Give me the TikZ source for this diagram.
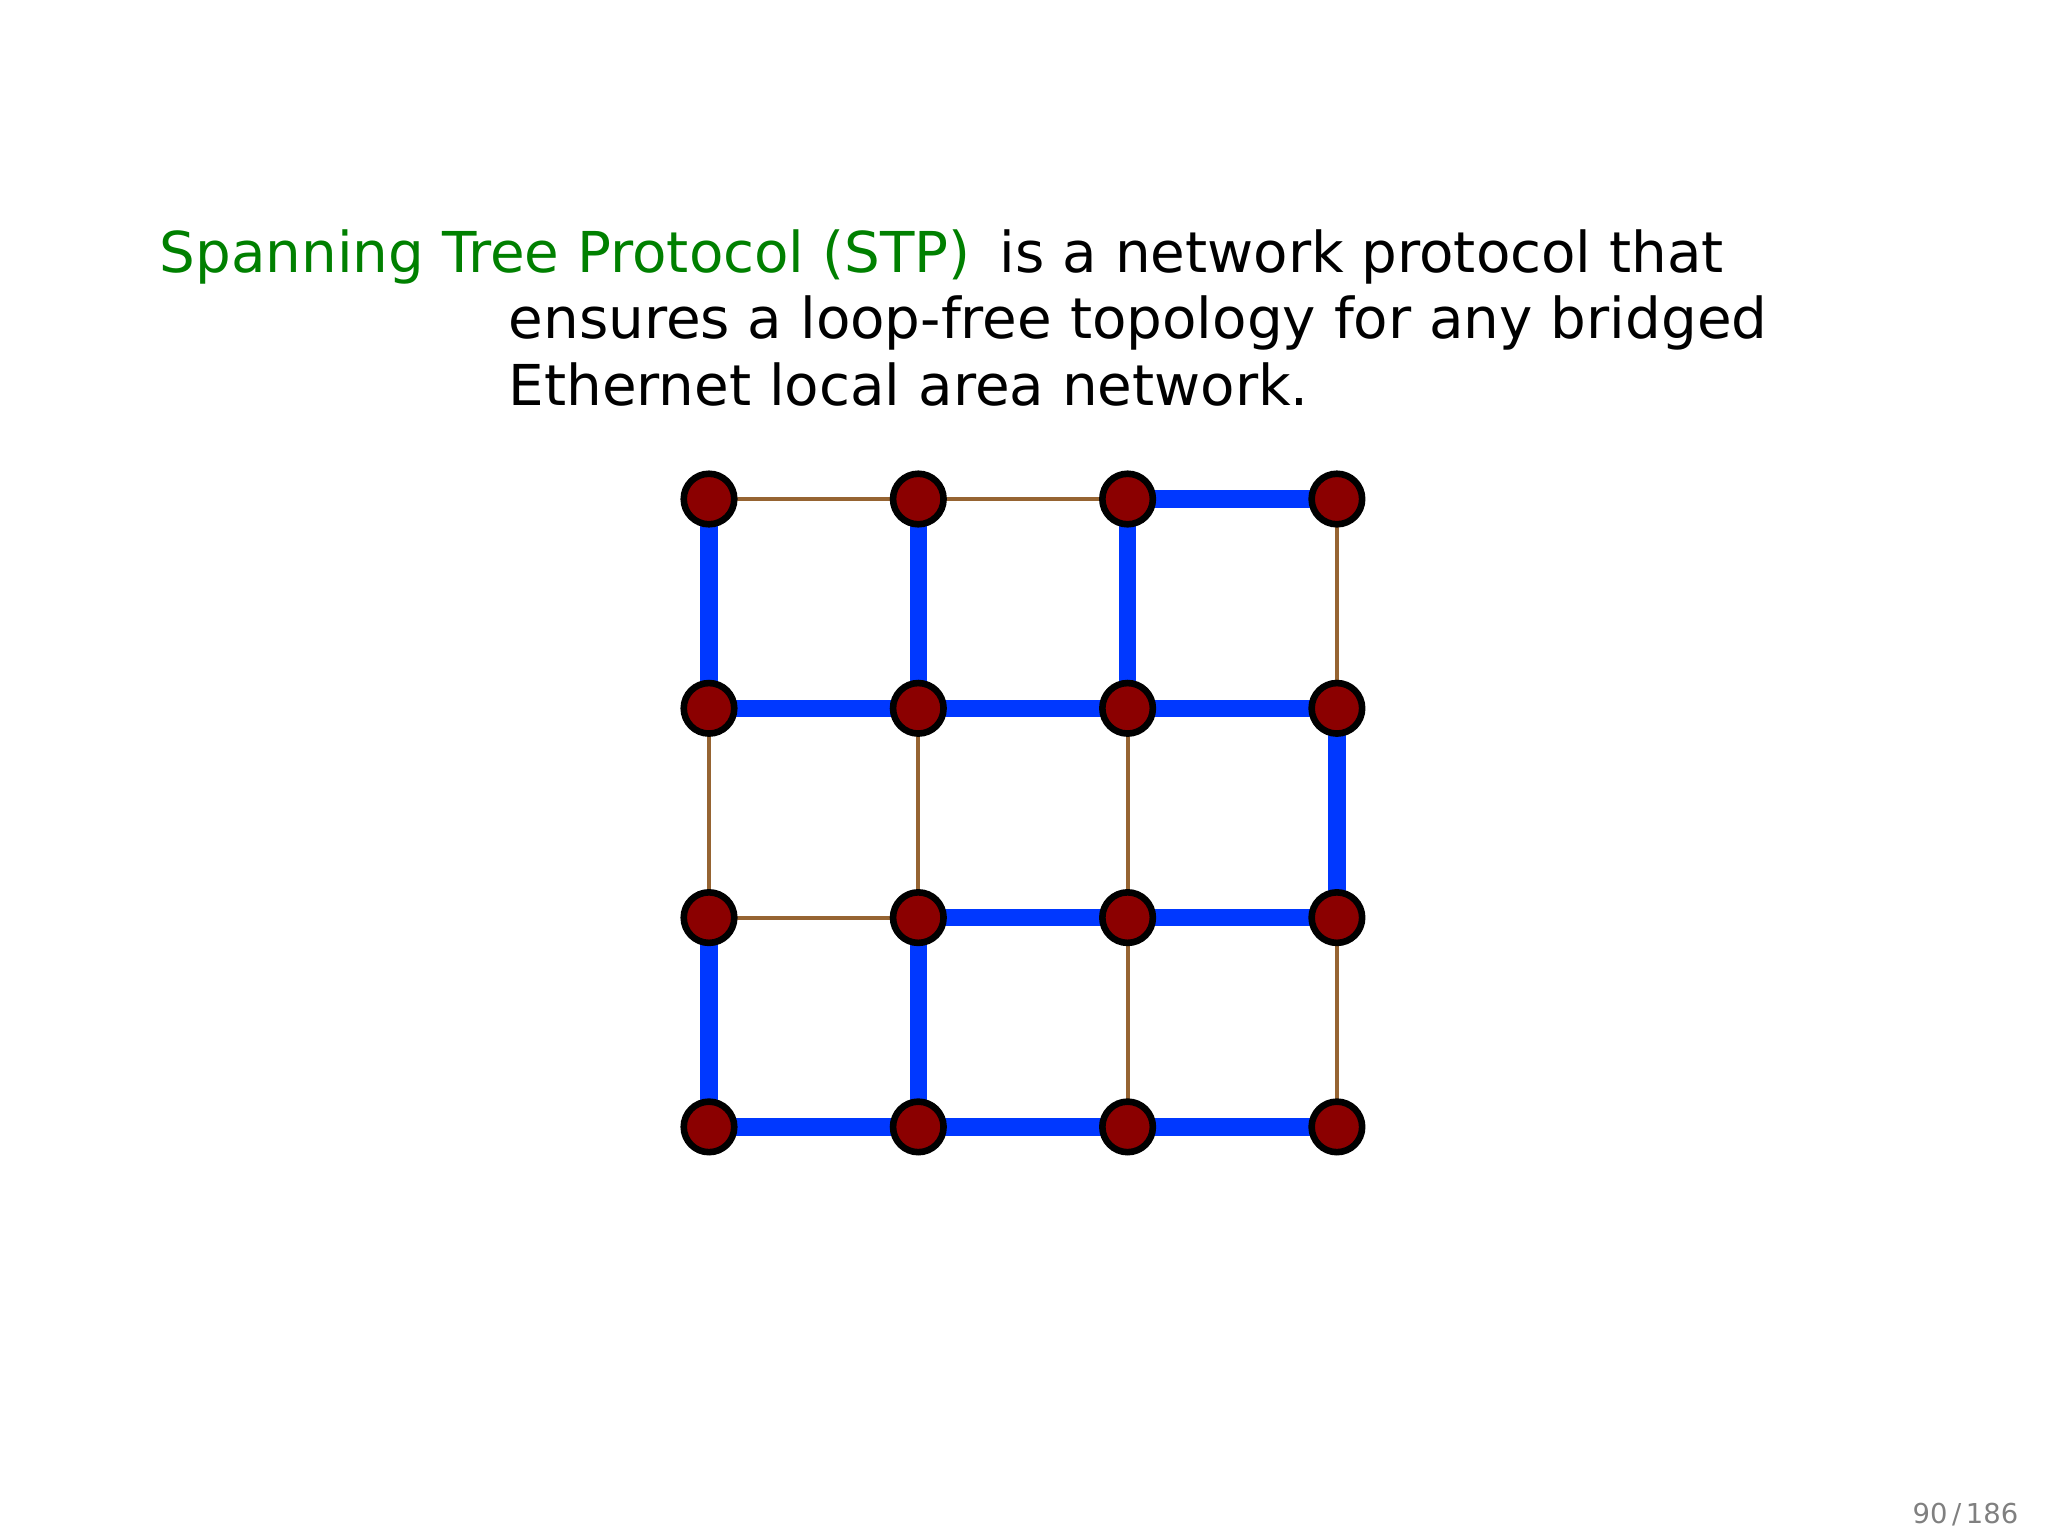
\documentclass[tikz,border=0pt]{standalone}
\usepackage{fontspec}
\setmainfont{DejaVu Sans}
\usetikzlibrary{backgrounds}
\definecolor{stpgreen}{RGB}{0,128,0}
\definecolor{treeblue}{RGB}{0,56,255}
\definecolor{linkbrown}{RGB}{150,100,50}
\definecolor{nodered}{RGB}{139,0,0}
\definecolor{pagegray}{RGB}{128,128,128}
\begin{document}
\begin{tikzpicture}[x=0.01cm,y=-0.01cm,
  bridge/.style={circle,draw=black,fill=nodered,line width=0.066cm,minimum size=0.505cm,inner sep=0pt},
  treelink/.style={draw=treeblue,line width=0.173cm},
  plainlink/.style={draw=linkbrown,line width=0.04cm},
  bodytext/.style={anchor=base west,inner sep=0pt,font=\fontsize{16.02}{19}\selectfont}]
\useasboundingbox (0,0) rectangle (2048,1536);
% text
\node[bodytext,text=stpgreen] (term) at (159,272) {Spanning Tree Protocol (STP)};
\node[bodytext] (l1) at (999,272) {is a network protocol that};
\node[bodytext] (l2) at (508,338) {ensures a loop-free topology for any bridged};
\node[bodytext] (l3) at (508,405) {Ethernet local area network.};
\node[anchor=base east,inner sep=0pt,text=pagegray,font=\fontsize{7.8}{9}\selectfont] (page) at (2019,1523) {90\,/\,186};
% nodes
\foreach \i in {1,...,4}{
  \foreach \j in {1,...,4}{
    \node[bridge] (n\i\j) at ({709+209.3*(\i-1)},{499+209.3*(\j-1)}) {};
  }
}
\begin{scope}[on background layer]
% row 1
\path[plainlink] (n11.center) -- (n21.center);
\path[plainlink] (n21.center) -- (n31.center);
\path[treelink] (n31.center) -- (n41.center);
% row 2
\path[treelink] (n12.center) -- (n22.center);
\path[treelink] (n22.center) -- (n32.center);
\path[treelink] (n32.center) -- (n42.center);
% row 3
\path[plainlink] (n13.center) -- (n23.center);
\path[treelink] (n23.center) -- (n33.center);
\path[treelink] (n33.center) -- (n43.center);
% row 4
\path[treelink] (n14.center) -- (n24.center);
\path[treelink] (n24.center) -- (n34.center);
\path[treelink] (n34.center) -- (n44.center);
% column 1
\path[treelink] (n11.center) -- (n12.center);
\path[plainlink] (n12.center) -- (n13.center);
\path[treelink] (n13.center) -- (n14.center);
% column 2
\path[treelink] (n21.center) -- (n22.center);
\path[plainlink] (n22.center) -- (n23.center);
\path[treelink] (n23.center) -- (n24.center);
% column 3
\path[treelink] (n31.center) -- (n32.center);
\path[plainlink] (n32.center) -- (n33.center);
\path[plainlink] (n33.center) -- (n34.center);
% column 4
\path[plainlink] (n41.center) -- (n42.center);
\path[treelink] (n42.center) -- (n43.center);
\path[plainlink] (n43.center) -- (n44.center);
\end{scope}
\end{tikzpicture}
\end{document}
